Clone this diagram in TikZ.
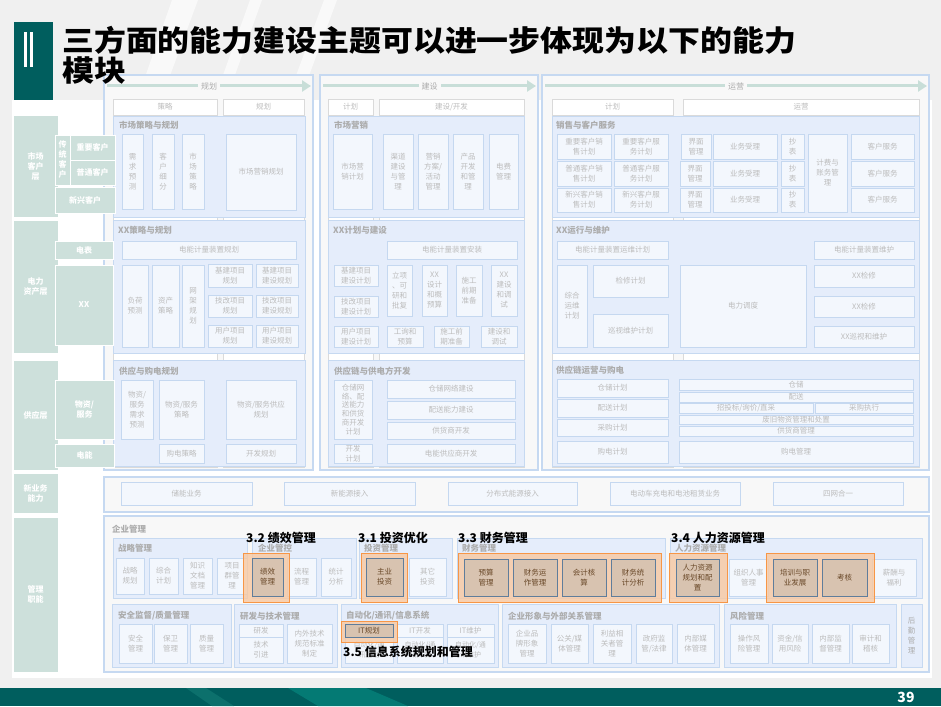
\documentclass[tikz,border=0pt]{standalone}
\usepackage{fontspec}
\usepackage{graphicx}
\setmainfont{Noto Sans CJK SC}
\usetikzlibrary{arrows.meta}
\definecolor{bgray}{RGB}{240,240,240}
\definecolor{teal1}{RGB}{0,94,94}
\definecolor{teal2}{RGB}{12,112,108}
\definecolor{teal3}{RGB}{4,122,116}
\definecolor{lab}{RGB}{205,224,219}
\definecolor{colfill}{RGB}{248,248,248}
\definecolor{colbord}{RGB}{198,217,241}
\definecolor{lanebord}{RGB}{218,218,218}
\definecolor{pfill}{RGB}{229,237,251}
\definecolor{pbord}{RGB}{198,217,241}
\definecolor{bfill}{RGB}{243,247,253}
\definecolor{bbord}{RGB}{197,216,240}
\definecolor{tgray}{RGB}{188,188,188}
\definecolor{ttitle}{RGB}{172,172,172}
\definecolor{arrowc}{RGB}{200,222,216}
\definecolor{ofill}{RGB}{248,200,160}
\definecolor{obord}{RGB}{247,150,70}
\definecolor{hfill}{RGB}{216,195,176}
\definecolor{hbord}{RGB}{95,125,155}
\definecolor{htext}{RGB}{105,72,40}
\newcounter{bxc}
\newcommand\bx[6][]{\stepcounter{bxc}\node[ibox,#1,minimum width={(#4-#2)*1pt},minimum height={(#5-#3)*1pt}] (n\arabic{bxc}) at ({(#2+#4)/2},{(#3+#5)/2}) {#6};}
\newcommand\pt[3]{\stepcounter{bxc}\node[ptitle] (t\arabic{bxc}) at (#1,#2) {#3};}
\tikzset{
 ibox/.style={fill=bfill, draw=bbord, line width=0.7pt, inner sep=0pt, outer sep=0pt, text=tgray, font=\fontsize{7.5}{10}\selectfont, align=center},
 hbox/.style={fill=hfill, draw=hbord, line width=1pt, text=htext},
 obox/.style={fill=ofill, fill opacity=0.8, draw=obord, line width=0.8pt},
 lbox/.style={fill=lab, draw=white, line width=1pt, text=white, font=\fontsize{8}{10}\selectfont\bfseries},
 colp/.style={fill=colfill, draw=colbord, line width=1.6pt},
 lane/.style={fill=white, draw=lanebord, line width=0.6pt, font=\fontsize{7.5}{9}\selectfont},
 rpanel/.style={fill=pfill, draw=pbord, line width=1pt},
 ptitle/.style={anchor=west, inner sep=0pt, text=ttitle, font=\fontsize{8.5}{9}\selectfont\bfseries},
 hlabel/.style={anchor=west, inner sep=0pt, text=black, font=\fontsize{12}{13}\selectfont\bfseries},
 arr/.style={draw=arrowc, line width=3pt, -{Triangle[length=9pt,width=11pt]}},
 alab/.style={fill=colfill, text=ttitle, inner sep=3pt, font=\fontsize{8}{9}\selectfont}
}
\begin{document}
\begin{tikzpicture}[x=1pt,y=-1pt]
\useasboundingbox (0,0) rectangle (941,706);
\fill[bgray] (0,0) rectangle (941,706);
\fill[white,opacity=0.6] (172,0) -- (198,0) -- (161,100) -- (137,100) -- cycle;
\fill[white,opacity=0.6] (250,0) -- (262,0) -- (226,100) -- (214,100) -- cycle;
\fill[white,opacity=0.6] (324,0) -- (337,0) -- (300,100) -- (287,100) -- cycle;
% footer
\fill[teal1] (0,688) rectangle (941,706);
\fill[teal2] (186,688) -- (206,688) -- (234,706) -- (212,706) -- cycle;
\fill[teal3] (288,688) -- (366,688) -- (408,706) -- (318,706) -- cycle;
\node[font=\fontsize{14}{14}\selectfont\bfseries, text=white] (pg) at (906,697) {39};
% white panel
\fill[white] (12,100) rectangle (932,678);
% title box
\fill[teal1] (14,22) rectangle (53,100);
\fill[white] (24,32) rectangle (27,67);
\fill[white] (30,32) rectangle (33,67);
% left labels
\bx[lbox]{13}{115}{58}{217}{市场\\客户\\层}
\bx[lbox]{13}{220}{58}{353}{电力\\资产层}
\bx[lbox]{13}{360}{58}{470}{供应层}
\bx[lbox]{13}{473}{58}{513}{新业务\\能力}
\bx[lbox]{13}{517}{58}{672}{管理\\职能}
% columns
\bx[colp]{104}{75}{313}{470}{}
\bx[colp]{320}{75}{538}{470}{}
\bx[colp]{542}{75}{929}{470}{}
\coordinate (a1s) at (107,86); \coordinate (a1e) at (311,86);
\draw[arr] (a1s) -- (a1e) node[alab,pos=0.5] (a1l) {规划};
\coordinate (a2s) at (323,86); \coordinate (a2e) at (536,86);
\draw[arr] (a2s) -- (a2e) node[alab,pos=0.5] (a2l) {建设};
\coordinate (a3s) at (545,86); \coordinate (a3e) at (927,86);
\draw[arr] (a3s) -- (a3e) node[alab,pos=0.5] (a3l) {运营};
% lanes
\bx[lane]{113}{99}{217}{115}{策略}
\bx[lane]{113}{115}{217}{467}{}
\bx[lane]{223}{99}{304}{115}{规划}
\bx[lane]{223}{115}{304}{467}{}
\bx[lane]{328}{99}{373}{115}{计划}
\bx[lane]{328}{115}{373}{467}{}
\bx[lane]{379}{99}{524}{115}{建设/开发}
\bx[lane]{379}{115}{524}{467}{}
\bx[lane]{552}{99}{673}{115}{计划}
\bx[lane]{552}{115}{673}{467}{}
\bx[lane]{683}{99}{919}{115}{运营}
\bx[lane]{683}{115}{919}{467}{}
% title (on top of the panels)
\node[anchor=west, inner sep=0pt, font=\fontsize{29}{30}\selectfont\bfseries] (title1) at (62,40) {\scalebox{1.1}[1]{三方面的能力建设主题可以进一步体现为以下的能力}};
\node[anchor=west, inner sep=0pt, font=\fontsize{29}{30}\selectfont\bfseries] (title2) at (62,71) {\scalebox{1.1}[1]{模块}};
% ===== row 1
\bx[rpanel]{113}{116}{305}{217}{}
\pt{119}{125}{市场策略与规划}
\bx{122}{134}{143}{209}{需\\求\\预\\测}
\bx{152}{134}{174}{209}{客\\户\\细\\分}
\bx{182}{134}{204}{209}{市\\场\\策\\略}
\bx{226}{134}{296}{210}{市场营销规划}
\bx[rpanel]{328}{116}{524}{217}{}
\pt{334}{125}{市场营销}
\bx{333}{134}{372}{209}{市场营\\销计划}
\bx{383}{134}{413}{209}{渠道\\建设\\与管\\理}
\bx{418}{134}{448}{209}{营销\\方案/\\活动\\管理}
\bx{453}{134}{483}{209}{产品\\开发\\和管\\理}
\bx{489}{134}{518}{209}{电费\\管理}
\bx[rpanel]{552}{116}{919}{217}{}
\pt{556}{125}{销售与客户服务}
\bx{557}{134}{611}{159}{重要客户销\\售计划}
\bx{614}{134}{668}{159}{重要客户服\\务计划}
\bx{557}{161}{611}{186}{普通客户销\\售计划}
\bx{614}{161}{668}{186}{普通客户服\\务计划}
\bx{557}{188}{611}{212}{新兴客户销\\售计划}
\bx{614}{188}{668}{212}{新兴客户服\\务计划}
\bx{681}{134}{711}{159}{界面\\管理}
\bx{680}{161}{710}{186}{界面\\管理}
\bx{680}{188}{710}{212}{界面\\管理}
\bx{713}{134}{777}{159}{业务受理}
\bx{713}{161}{777}{186}{业务受理}
\bx{713}{188}{777}{212}{业务受理}
\bx{781}{134}{804}{159}{抄\\表}
\bx{781}{161}{804}{186}{抄\\表}
\bx{781}{188}{804}{212}{抄\\表}
\bx{808}{134}{847}{212}{计费与\\账务管\\理}
\bx{851}{134}{914}{159}{客户服务}
\bx{851}{161}{914}{186}{客户服务}
\bx{851}{188}{914}{212}{客户服务}
% ===== row 2
\bx[rpanel]{113}{220}{305}{353}{}
\pt{118}{230}{XX策略与规划}
\bx{122}{241}{296}{259}{电能计量装置规划}
\bx{122}{265}{148}{347}{负荷\\预测}
\bx{152}{265}{179}{347}{资产\\策略}
\bx{182}{265}{204}{347}{网\\架\\规\\划}
\bx{208}{264}{252}{287}{基建项目\\规划}
\bx{256}{264}{298}{287}{基建项目\\建设规划}
\bx{208}{295}{252}{317}{技改项目\\规划}
\bx{256}{295}{298}{317}{技改项目\\建设规划}
\bx{208}{325}{252}{347}{用户项目\\规划}
\bx{256}{325}{298}{347}{用户项目\\建设规划}
\bx[rpanel]{328}{220}{524}{353}{}
\pt{333}{230}{XX计划与建设}
\bx{387}{241}{517}{259}{电能计量装置安装}
\bx{334}{265}{378}{286}{基建项目\\建设计划}
\bx{334}{296}{378}{317}{技改项目\\建设计划}
\bx{334}{326}{378}{347}{用户项目\\建设计划}
\bx{387}{265}{412}{316}{立项\\、可\\研和\\批复}
\bx{422}{265}{447}{316}{XX\\设计\\和概\\预算}
\bx{456}{265}{482}{316}{施工\\前期\\准备}
\bx{491}{265}{517}{316}{XX\\建设\\和调\\试}
\bx{387}{326}{423}{347}{工询和\\预算}
\bx{434}{326}{469}{347}{施工前\\期准备}
\bx{481}{326}{517}{347}{建设和\\调试}
\bx[rpanel]{552}{220}{919}{353}{}
\pt{556}{230}{XX运行与维护}
\bx{557}{241}{668}{259}{电能计量装置运维计划}
\bx{814}{241}{914}{259}{电能计量装置维护}
\bx{557}{265}{587}{347}{综合\\运维\\计划}
\bx{593}{265}{668}{297}{检修计划}
\bx{593}{314}{668}{347}{巡视维护计划}
\bx{680}{265}{806}{347}{电力调度}
\bx{814}{265}{914}{287}{XX检修}
\bx{814}{296}{914}{317}{XX检修}
\bx{814}{326}{914}{347}{XX巡视和维护}
% ===== row 3
\bx[rpanel]{113}{360}{305}{466}{}
\pt{119}{371}{供应与购电规划}
\bx{121}{380}{153}{439}{物资/\\服务\\需求\\预测}
\bx{159}{380}{204}{439}{物资/服务\\策略}
\bx{226}{380}{296}{439}{物资/服务供应\\规划}
\bx{159}{444}{204}{463}{购电策略}
\bx{226}{444}{296}{463}{开发规划}
\bx[rpanel]{328}{360}{524}{466}{}
\pt{334}{371}{供应链与供电方开发}
\bx[font=\fontsize{7.5}{8.8}\selectfont]{334}{380}{372}{439}{仓储网\\络、配\\送能力\\和供货\\商开发\\计划}
\bx{387}{380}{515}{398}{仓储网络建设}
\bx{387}{401}{515}{419}{配送能力建设}
\bx{387}{422}{515}{439}{供货商开发}
\bx{334}{444}{372}{463}{开发\\计划}
\bx{387}{444}{515}{463}{电能供应商开发}
\bx[rpanel]{552}{360}{919}{466}{}
\pt{556}{370}{供应链运营与购电}
\bx{557}{379}{668}{397}{仓储计划}
\bx{557}{399}{668}{417}{配送计划}
\bx{557}{419}{668}{436}{采购计划}
\bx{557}{441}{668}{463}{购电计划}
\bx{679}{379}{913}{390}{仓储}
\bx{679}{392}{913}{402}{配送}
\bx{679}{403}{813}{413}{招投标/询价/直采}
\bx{815}{403}{913}{413}{采购执行}
\bx{679}{415}{913}{424}{废旧物资管理和处置}
\bx{679}{426}{913}{436}{供货商管理}
\bx{679}{441}{913}{463}{购电管理}
% sub labels
\bx[lbox]{55}{135}{70}{185}{传\\统\\客\\户}
\bx[lbox]{70}{135}{115}{160}{重要客户}
\bx[lbox]{70}{160}{115}{185}{普通客户}
\bx[lbox]{55}{187}{115}{213}{新兴客户}
\bx[lbox]{55}{241}{113}{259}{电表}
\bx[lbox]{55}{265}{113}{345}{XX}
\bx[lbox]{55}{380}{114}{439}{物资/\\服务}
\bx[lbox]{55}{444}{114}{467}{电能}
% ===== new business
\bx[colp]{104}{477}{929}{512}{}
\bx{121}{482}{252}{505}{储能业务}
\bx{284}{482}{415}{505}{新能源接入}
\bx{448}{482}{577}{505}{分布式能源接入}
\bx{610}{482}{740}{505}{电动车充电和电池租赁业务}
\bx{773}{482}{903}{505}{四网合一}
% ===== management
\bx[colp]{104}{516}{929}{672}{}
\pt{112}{529}{企业管理}
\bx[rpanel]{113}{538}{247}{598}{}
\pt{118}{548}{战略管理}
\bx{116}{558}{144}{594}{战略\\规划}
\bx{149}{558}{178}{594}{综合\\计划}
\bx{183}{558}{212}{594}{知识\\文档\\管理}
\bx{217}{558}{247}{594}{项目\\群管\\理}
\bx[rpanel]{252}{538}{356}{598}{}
\pt{258}{548}{企业管控}
\bx{287}{558}{316}{596}{流程\\管理}
\bx{321}{558}{351}{596}{统计\\分析}
\bx[rpanel]{359}{538}{452}{598}{}
\pt{364}{548}{投资管理}
\bx{409}{558}{446}{596}{其它\\投资}
\bx[rpanel]{457}{538}{665}{598}{}
\pt{462}{548}{财务管理}
\bx[rpanel]{670}{538}{922}{598}{}
\pt{675}{548}{人力资源管理}
\bx{729}{559}{768}{596}{组织人事\\管理}
\bx{872}{559}{916}{596}{薪酬与\\福利}
% bottom row
\bx[rpanel]{112}{604}{231}{667}{}
\pt{118}{616}{安全监督/质量管理}
\bx{119}{624}{152}{663}{安全\\管理}
\bx{154}{624}{187}{663}{保卫\\管理}
\bx{190}{624}{223}{663}{质量\\管理}
\bx[rpanel]{234}{604}{337}{667}{}
\pt{240}{616}{研发与技术管理}
\bx{239}{624}{283}{637}{研发}
\bx{239}{637}{283}{663}{技术\\引进}
\bx{287}{624}{332}{663}{内外技术\\规范标准\\制定}
\bx[rpanel]{341}{604}{498}{667}{}
\pt{346}{616}{自动化/通讯/信息系统}
\bx{397}{624}{443}{637}{IT开发}
\bx{447}{624}{494}{637}{IT维护}
\bx[font=\fontsize{7}{10}\selectfont]{345}{637}{393}{663}{自动化/通\\讯规划}
\bx[font=\fontsize{7}{10}\selectfont]{397}{637}{443}{663}{自动化/通\\讯开发}
\bx[font=\fontsize{7}{10}\selectfont]{447}{637}{494}{663}{自动化/通\\讯维护}
\bx[rpanel]{502}{604}{719}{667}{}
\pt{508}{616}{企业形象与外部关系管理}
\bx{508}{624}{546}{663}{企业品\\牌形象\\管理}
\bx{551}{624}{588}{663}{公关/媒\\体管理}
\bx{593}{624}{631}{663}{利益相\\关者管\\理}
\bx{636}{624}{672}{663}{政府监\\管/法律}
\bx{677}{624}{714}{663}{内部媒\\体管理}
\bx[rpanel]{724}{604}{896}{667}{}
\pt{730}{616}{风险管理}
\bx{730}{624}{768}{663}{操作风\\险管理}
\bx{772}{624}{808}{663}{资金/信\\用风险}
\bx{812}{624}{849}{663}{内部监\\督管理}
\bx{852}{624}{889}{663}{审计和\\稽核}
\bx[rpanel,text=ttitle,font=\fontsize{7.5}{10}\selectfont]{901}{604}{922}{667}{后\\勤\\管\\理}
% highlights
\bx[obox]{243}{553}{289}{602}{}
\bx[hbox]{252}{558}{283}{596}{绩效\\管理}
\bx[obox]{361}{553}{407}{602}{}
\bx[hbox]{366}{558}{403}{596}{主业\\投资}
\bx[obox]{458}{553}{661}{602}{}
\bx[hbox]{464}{559}{508}{596}{预算\\管理}
\bx[hbox]{513}{559}{557}{596}{财务运\\作管理}
\bx[hbox]{562}{559}{606}{596}{会计核\\算}
\bx[hbox]{611}{559}{655}{596}{财务统\\计分析}
\bx[obox]{669}{553}{727}{602}{}
\bx[hbox]{676}{559}{719}{596}{人力资源\\规划和配\\置}
\bx[obox]{766}{553}{874}{602}{}
\bx[hbox]{773}{559}{817}{596}{培训与职\\业发展}
\bx[hbox]{822}{559}{867}{596}{考核}
\bx[obox]{341}{621}{397}{642}{}
\bx[hbox]{345}{624}{393}{637}{IT规划}
% labels
\node[hlabel] (L32) at (246,538) {3.2 绩效管理};
\node[hlabel] (L31) at (358,538) {3.1 投资优化};
\node[hlabel] (L33) at (458,538) {3.3 财务管理};
\node[hlabel] (L34) at (671,538) {3.4 人力资源管理};
\node[hlabel] (L35) at (343,652) {3.5 信息系统规划和管理};
\end{tikzpicture}
\end{document}
